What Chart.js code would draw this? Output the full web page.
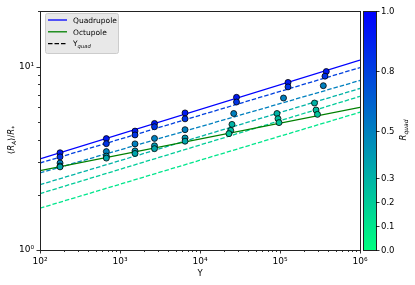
<!DOCTYPE html>
<html>
<head>
<meta charset="utf-8">
<script src="https://cdn.jsdelivr.net/npm/chart.js@4.4.1/dist/chart.umd.min.js"></script>
<style>
html, body { margin: 0; padding: 0; background: #fff; }
#wrap { width: 415px; height: 285px; }
</style>
</head>
<body>
<div id="wrap"><canvas id="chart" width="415" height="285"></canvas></div>
<script>
// model lines (Y at both ends of the axis)
var lineY = [1e2, 1e6];
var quadrupole = [3.14, 10.84];
var octupole = [2.71, 6.0];
var yquadR = [0.75, 0.5, 0.3, 0.2, 0.1];
var yquadStart = [2.98, 2.63, 2.27, 2.03, 1.69];
var yquadEnd = [9.88, 8.40, 7.60, 6.88, 5.64];

// simulation points
var pointY = [178, 178, 178, 178, 178,
	675, 675, 675, 675, 675,
	1540, 1540, 1540, 1540, 1540,
	2700, 2700, 2700, 2700, 2700,
	6500, 6500, 6500, 6500, 6500,
	28600, 28600, 26400, 25100, 24200, 23000,
	126000, 126000, 110600, 91700, 94400, 97200,
	379000, 365000, 348000, 270000, 282000, 294000];
var pointRatio = [3.39, 3.22, 2.98, 2.87, 2.84,
	4.05, 3.80, 3.44, 3.25, 3.17,
	4.45, 4.24, 3.79, 3.47, 3.36,
	4.90, 4.70, 4.06, 3.70, 3.57,
	5.59, 5.19, 4.53, 4.08, 3.92,
	6.80, 6.41, 5.55, 4.84, 4.49, 4.31,
	8.20, 7.75, 6.74, 5.55, 5.20, 4.95,
	9.40, 8.87, 7.87, 6.33, 5.80, 5.49];
var pointRq = [0.9, 0.8, 0.5, 0.4, 0.35,
	0.9, 0.8, 0.5, 0.4, 0.35,
	0.9, 0.8, 0.5, 0.4, 0.35,
	0.9, 0.8, 0.5, 0.4, 0.35,
	0.9, 0.8, 0.5, 0.4, 0.35,
	0.9, 0.8, 0.5, 0.3, 0.25, 0.22,
	0.9, 0.8, 0.5, 0.3, 0.25, 0.22,
	0.9, 0.8, 0.5, 0.3, 0.25, 0.22];

var xTicks = [1e2, 1e3, 1e4, 1e5, 1e6];
var yTicks = [1, 10];
var cbarTicks = [0, 0.1, 0.2, 0.3, 0.5, 0.75, 1.0];

var FONT = '"DejaVu Sans", sans-serif';
var SUP = { '0': '\u2070', '1': '\u00b9', '2': '\u00b2', '3': '\u00b3', '4': '\u2074', '5': '\u2075', '6': '\u2076' };

// matplotlib winter_r
function winterR(v) {
	var g = Math.round(255 * (1 - v));
	var b = Math.round(255 * (0.5 + 0.5 * v));
	return 'rgb(0,' + g + ',' + b + ')';
}

function decadeLabel(v) {
	var e = Math.round(Math.log10(v));
	if (Math.abs(Math.log10(v) - e) > 1e-6) return '';
	return '10' + String(e).split('').map(function (c) { return SUP[c]; }).join('');
}

// text pieces with italic / subscript, starting at x, baseline y
function richWidth(ctx, parts, size) {
	var w = 0;
	parts.forEach(function (p) {
		var s = p.sub ? size * 0.7 : size;
		ctx.font = (p.italic ? 'italic ' : '') + s + 'px ' + FONT;
		w += ctx.measureText(p.t).width;
	});
	return w;
}
function drawRich(ctx, parts, x, y, size) {
	parts.forEach(function (p) {
		var s = p.sub ? size * 0.7 : size;
		ctx.font = (p.italic ? 'italic ' : '') + s + 'px ' + FONT;
		ctx.fillText(p.t, x, p.sub ? y + size * 0.25 : y);
		x += ctx.measureText(p.t).width;
	});
}

var datasets = [{
	type: 'scatter',
	label: 'sims',
	data: pointY.map(function (y, i) { return { x: y, y: pointRatio[i] }; }),
	backgroundColor: pointRq.map(winterR),
	borderColor: '#000',
	borderWidth: 0.8,
	pointRadius: 3,
	order: 0
}, {
	type: 'line',
	label: 'Quadrupole',
	data: lineY.map(function (y, i) { return { x: y, y: quadrupole[i] }; }),
	borderColor: '#0000ff',
	borderWidth: 1.3,
	pointRadius: 0,
	order: 1
}, {
	type: 'line',
	label: 'Octupole',
	data: lineY.map(function (y, i) { return { x: y, y: octupole[i] }; }),
	borderColor: '#008000',
	borderWidth: 1.3,
	pointRadius: 0,
	order: 1
}];
yquadR.forEach(function (r, k) {
	datasets.push({
		type: 'line',
		label: 'Yquad ' + r,
		data: [{ x: lineY[0], y: yquadStart[k] }, { x: lineY[1], y: yquadEnd[k] }],
		borderColor: winterR(r),
		borderWidth: 1.3,
		borderDash: [4.5, 2],
		pointRadius: 0,
		order: 2
	});
});

var extras = {
	id: 'extras',
	afterDraw: function (chart) {
		var ctx = chart.ctx;
		var a = chart.chartArea;
		var xs = chart.scales.x, ys = chart.scales.y;
		ctx.save();

		// minor / major tick marks
		ctx.strokeStyle = '#000';
		ctx.lineWidth = 0.8;
		var d, k, v, p, len;
		for (d = 2; d <= 6; d++) {
			for (k = 1; k <= 9; k++) {
				v = k * Math.pow(10, d);
				if (v > 1e6) break;
				p = Math.round(xs.getPixelForValue(v)) + 0.5;
				len = k === 1 ? 3.5 : 2;
				ctx.beginPath(); ctx.moveTo(p, a.bottom); ctx.lineTo(p, a.bottom + len); ctx.stroke();
			}
		}
		for (d = 0; d <= 1; d++) {
			for (k = 1; k <= 9; k++) {
				v = k * Math.pow(10, d);
				if (v > 20) break;
				p = Math.round(ys.getPixelForValue(v)) + 0.5;
				len = k === 1 ? 3.5 : 2;
				ctx.beginPath(); ctx.moveTo(a.left, p); ctx.lineTo(a.left - len, p); ctx.stroke();
			}
		}

		// frame
		ctx.strokeStyle = '#222';
		ctx.lineWidth = 1;
		ctx.strokeRect(Math.round(a.left) + 0.5, Math.round(a.top) + 0.5, Math.round(a.right - a.left), Math.round(a.bottom - a.top));

		// axis titles
		ctx.fillStyle = '#000';
		ctx.textBaseline = 'alphabetic';
		ctx.textAlign = 'left';
		ctx.font = '8.5px ' + FONT;
		var tw = ctx.measureText('Y').width;
		ctx.fillText('Y', (a.left + a.right) / 2 - tw / 2, 276);

		var ylab = [{ t: '\u27e8' }, { t: 'R', italic: true }, { t: 'A', italic: true, sub: true }, { t: '\u27e9/' }, { t: 'R', italic: true }, { t: '*', sub: true }];
		ctx.save();
		ctx.translate(14, 140);
		ctx.rotate(-Math.PI / 2);
		var yw = richWidth(ctx, ylab, 8.5);
		drawRich(ctx, ylab, -yw / 2, 0, 8.5);
		ctx.restore();

		// colour bar
		var cx = 363, cw = 13, ct = a.top, cb = a.bottom;
		var grad = ctx.createLinearGradient(0, cb, 0, ct);
		for (var i = 0; i <= 10; i++) grad.addColorStop(i / 10, winterR(i / 10));
		ctx.fillStyle = grad;
		ctx.fillRect(cx, ct, cw, cb - ct);
		ctx.strokeStyle = '#222';
		ctx.lineWidth = 1;
		ctx.strokeRect(cx + 0.5, Math.round(ct) + 0.5, cw, Math.round(cb - ct));
		ctx.fillStyle = '#000';
		ctx.font = '8.5px ' + FONT;
		ctx.textBaseline = 'middle';
		cbarTicks.forEach(function (t) {
			var py = Math.round(cb - t * (cb - ct)) + 0.5;
			ctx.strokeStyle = '#000';
			ctx.lineWidth = 0.8;
			ctx.beginPath(); ctx.moveTo(cx + cw, py); ctx.lineTo(cx + cw + 3.5, py); ctx.stroke();
			ctx.fillText(t.toFixed(1), cx + cw + 5, py);
		});
		var clab = [{ t: 'R', italic: true }, { t: 'quad', italic: true, sub: true }];
		ctx.save();
		ctx.translate(406, 130);
		ctx.rotate(-Math.PI / 2);
		ctx.textBaseline = 'alphabetic';
		var cwid = richWidth(ctx, clab, 8.5);
		drawRich(ctx, clab, -cwid / 2, 0, 8.5);
		ctx.restore();

		// legend
		var lx = 45.5, ly = 13.5, lw = 73, lh = 40;
		ctx.fillStyle = 'rgba(229,229,229,0.9)';
		ctx.strokeStyle = '#cccccc';
		ctx.lineWidth = 1;
		ctx.beginPath();
		ctx.roundRect(lx, ly, lw, lh, 2);
		ctx.fill();
		ctx.stroke();
		var rows = [
			{ color: '#0000ff', dash: [], parts: [{ t: 'Quadrupole' }] },
			{ color: '#008000', dash: [], parts: [{ t: 'Octupole' }] },
			{ color: '#000', dash: [4.5, 2], parts: [{ t: 'Y' }, { t: 'quad', italic: true, sub: true }] }
		];
		rows.forEach(function (r, j) {
			var ry = 20 + j * 11.8;
			ctx.strokeStyle = r.color;
			ctx.lineWidth = 1.3;
			ctx.setLineDash(r.dash);
			ctx.beginPath(); ctx.moveTo(48, ry); ctx.lineTo(67, ry); ctx.stroke();
			ctx.setLineDash([]);
			ctx.fillStyle = '#000';
			ctx.textBaseline = 'alphabetic';
			drawRich(ctx, r.parts, 73, ry + 2.8, 7.5);
		});

		ctx.restore();
	}
};

new Chart(document.getElementById('chart'), {
	type: 'scatter',
	data: { datasets: datasets },
	options: {
		responsive: false,
		animation: false,
		devicePixelRatio: 1,
		layout: { padding: { left: 0, right: 55, top: 9, bottom: 0 } },
		plugins: { legend: { display: false }, tooltip: { enabled: false } },
		scales: {
			x: {
				type: 'logarithmic',
				min: 1e2,
				max: 1e6,
				border: { display: false },
				grid: { display: false, drawTicks: false },
				afterBuildTicks: function (s) { s.ticks = xTicks.map(function (v) { return { value: v }; }); },
				afterFit: function (s) { s.height = 35; },
				ticks: {
					autoSkip: false,
					maxRotation: 0,
					padding: 6,
					color: '#000',
					font: { family: FONT, size: 9 },
					callback: function (v) { return decadeLabel(v); }
				}
			},
			y: {
				type: 'logarithmic',
				min: 1,
				max: 20,
				border: { display: false },
				grid: { display: false, drawTicks: false },
				afterBuildTicks: function (s) { s.ticks = yTicks.map(function (v) { return { value: v }; }); },
				afterFit: function (s) { s.width = 40; },
				ticks: {
					autoSkip: false,
					padding: 6,
					color: '#000',
					font: { family: FONT, size: 9 },
					callback: function (v) { return decadeLabel(v); }
				}
			}
		}
	},
	plugins: [extras]
});
</script>
</body>
</html>
